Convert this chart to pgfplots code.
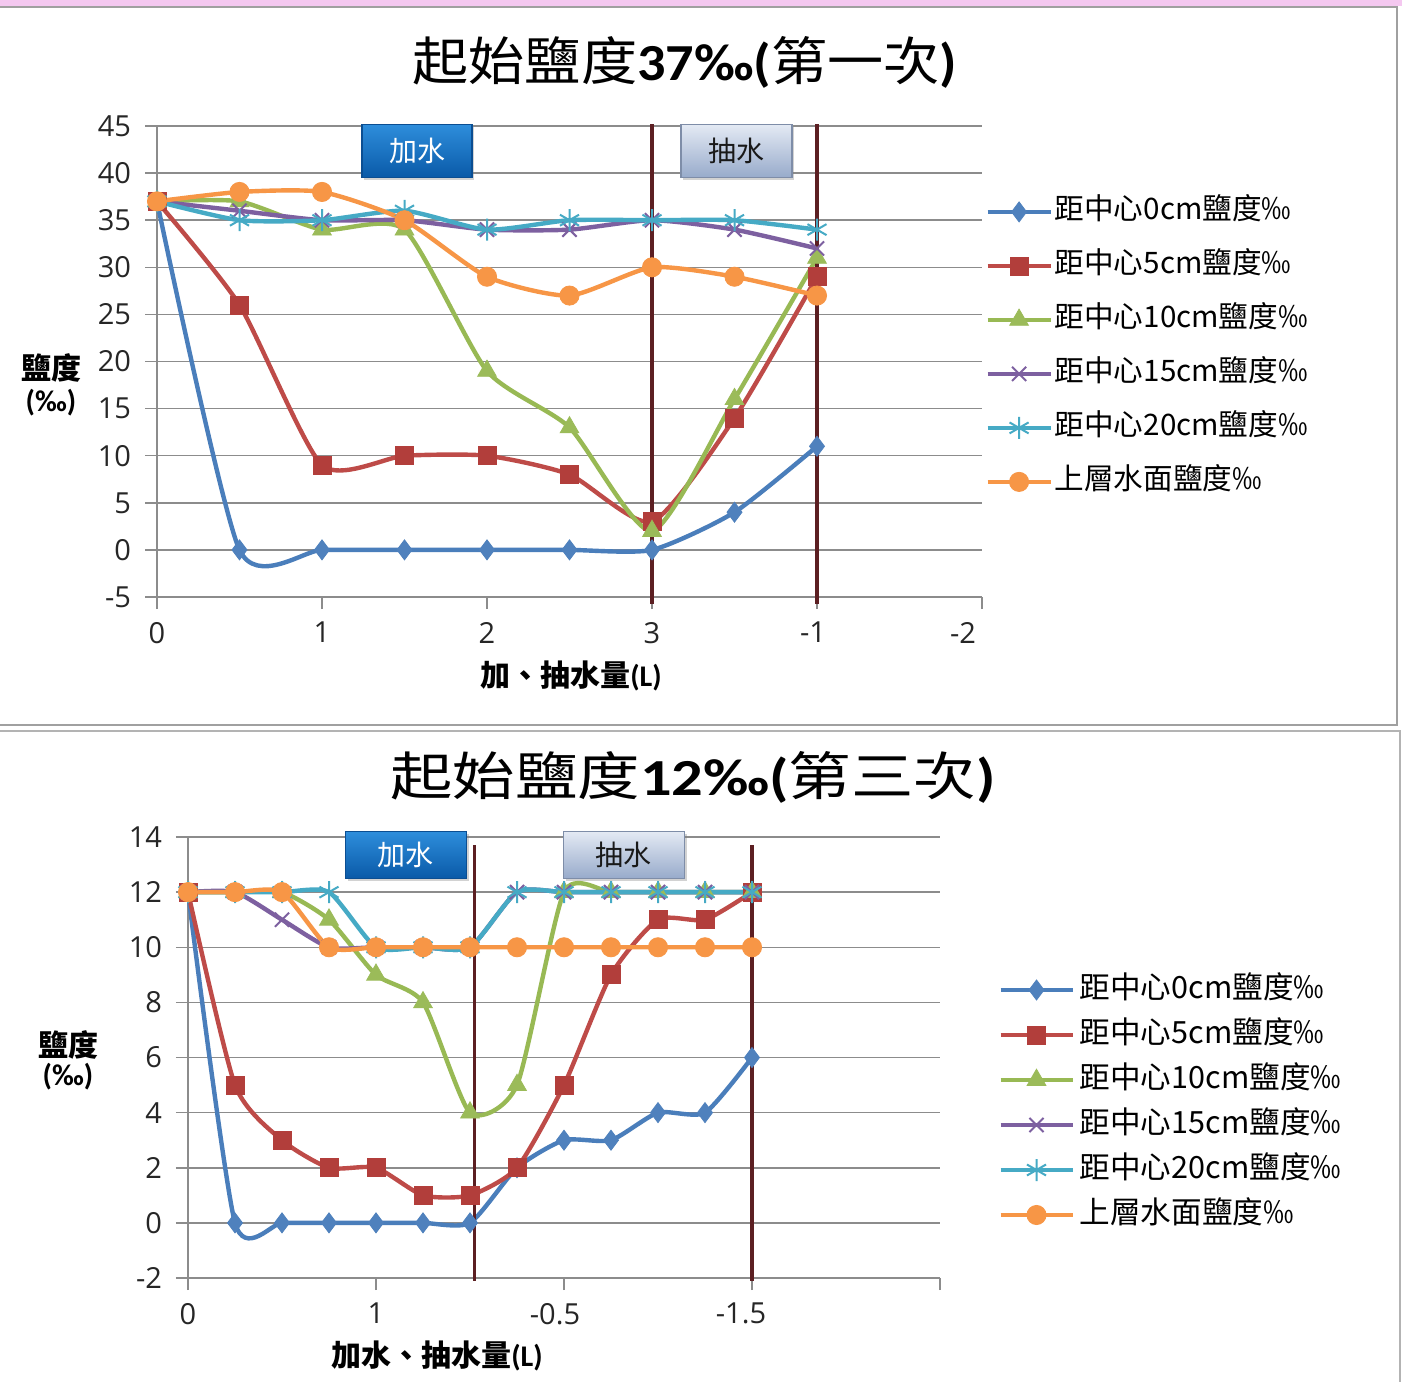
\documentclass[border=0pt]{standalone}
\usepackage{fontspec}
\usepackage{graphicx}
\usepackage{pgfplots}
\pgfplotsset{compat=1.18}
\usetikzlibrary{shadows}
\setmainfont{Carlito}
\newfontfamily\cjk{Noto Sans CJK TC}
\newfontfamily\tickfont{Open Sans}

\definecolor{s1}{HTML}{4A7EBB}
\definecolor{s1m}{HTML}{4F81BD}
\definecolor{s2}{HTML}{BE4B48}
\definecolor{s2m}{HTML}{B23E3B}
\definecolor{s3}{HTML}{98B954}
\definecolor{s3m}{HTML}{9BBB59}
\definecolor{s4}{HTML}{7D60A0}
\definecolor{s5}{HTML}{46AAC5}
\definecolor{s6}{HTML}{F79646}
\definecolor{gridc}{HTML}{8C8C8C}
\definecolor{vline}{HTML}{5C1F22}
\definecolor{panel}{HTML}{A0A0A0}
\definecolor{pinkband}{HTML}{F4C8F0}
\definecolor{addtop}{HTML}{2E8EDC}
\definecolor{addbot}{HTML}{0A5AA8}
\definecolor{addedge}{HTML}{0B4E92}
\definecolor{pumptop}{HTML}{E4EAF4}
\definecolor{pumpbot}{HTML}{98ABCB}
\definecolor{pumpedge}{HTML}{7E8DA8}

% shift a tick label sideways without changing its width
\newcommand{\tickleft}[2]{\kern-#1#2\kern#1}

% measurements, top panel: 0, 0.5, ..., 4 (positions 3 and 4 are drawn as 3 and -1)
\pgfplotstableread{
x   c0  c5  c10 c15 c20 top
0   37  37  37  37  37  37
0.5 0   26  37  36  35  38
1   0   9   34  35  35  38
1.5 0   10  34  35  36  35
2   0   10  19  34  34  29
2.5 0   8   13  34  35  27
3   0   3   2   35  35  30
3.5 4   14  16  34  35  29
4   11  29  31  32  34  27
}\runA

% measurements, bottom panel: steps of 0.25 L
\pgfplotstableread{
x   c0  c5  c10 c15 c20 top
0   12  12  12  12  12  12
1   0   5   12  12  12  12
2   0   3   12  11  12  12
3   0   2   11  10  12  10
4   0   2   9   10  10  10
5   0   1   8   10  10  10
6   0   1   4   10  10  10
7   2   2   5   12  12  10
8   3   5   12  12  12  10
9   3   9   12  12  12  10
10  4   11  12  12  12  10
11  4   11  12  12  12  10
12  6   12  12  12  12  10
}\runC

\pgfplotsset{
  salt/.style={
    scale only axis,
    axis x line=bottom, axis y line=left,
    axis line style={gridc, line width=0.75pt, -},
    ymajorgrids, grid style={gridc, line width=0.75pt},
    tick align=outside, major tick length=6pt,
    tick style={gridc, line width=0.75pt},
    tick label style={font=\tickfont\fontsize{14.5}{16}\selectfont, text=black!85},
    yticklabel style={xshift=-3.5pt},
    xticklabel style={yshift=-3pt},
    /pgf/number format/assume math mode=true,
    clip=false,
    legend cell align=left,
    every axis plot/.append style={line width=2.2pt, smooth, tension=0.38},
  },
  ser0/.style={s1, mark=diamond*, mark size=5pt, mark options={solid, line width=0.4pt, draw=s1m, fill=s1m}},
  ser5/.style={s2, mark=square*, mark size=4.5pt, mark options={solid, line width=0.4pt, draw=s2m, fill=s2m}},
  ser10/.style={s3, mark=triangle*, mark size=5.4pt, mark options={solid, line width=0.4pt, draw=s3m, fill=s3m}},
  ser15/.style={s4, mark=x, mark size=5pt, mark options={solid, line width=1pt, draw=s4}},
  ser20/.style={s5, mark=asterisk, mark size=5.5pt, mark options={solid, line width=1pt, draw=s5}},
  sertop/.style={s6, mark=*, mark size=4.8pt, mark options={solid, line width=0.4pt, draw=s6, fill=s6}},
}

\tikzset{
  addbox/.style={draw=addedge, line width=0.6pt, top color=addtop, bottom color=addbot,
    text=white, font=\cjk\fontsize{14}{16}\selectfont, inner sep=0pt,
    drop shadow={opacity=0.35, shadow xshift=1.2pt, shadow yshift=-1.5pt}},
  pumpbox/.style={draw=pumpedge, line width=0.6pt, top color=pumptop, bottom color=pumpbot,
    text=black!90, font=\cjk\fontsize{14}{16}\selectfont, inner sep=0pt,
    drop shadow={opacity=0.35, shadow xshift=1.2pt, shadow yshift=-1.5pt}},
}

\begin{document}
\begin{tikzpicture}
\useasboundingbox (0,0) rectangle (701pt,-690.5pt);
\fill[white] (0,0) rectangle (701pt,-690.5pt);
\fill[pinkband] (0,0) rectangle (701pt,-3.2pt);
\draw[panel, line width=1pt] (-2pt,-3.6pt) rectangle (698.4pt,-362.6pt);
\draw[panel!80, line width=1pt] (-2pt,-365.6pt) rectangle (700pt,-695pt);

% ---------- first run: 37 per mille ----------
\node[anchor=center] at (342.5pt,-31pt)
  {\scalebox{1.08}[1]{\fontsize{26}{30}\selectfont{\cjk 起始鹽度}{\bfseries 37‰(}{\cjk 第一次}{\bfseries )}}};

\begin{axis}[salt,
  at={(78.5pt,-298.5pt)}, anchor=south west,
  width=412.5pt, height=235.5pt,
  xmin=0, xmax=5, ymin=-5, ymax=45,
  xtick={0,1,2,3,4,5}, xticklabels={0,1,2,3,\tickleft{2pt}{-1},\tickleft{9.5pt}{-2}},
  ytick={-5,0,5,10,15,20,25,30,35,40,45},
  legend style={at={(1.0036,0.531)}, anchor=west, draw=none, fill=none,
    inner sep=0pt, row sep=13pt,
    font=\cjk\fontsize{14.8}{16}\selectfont,
    nodes={inner sep=0pt, text height=11pt, text depth=3pt},
    /tikz/every odd column/.append style={column sep=1pt}},
  legend image code/.code={\draw[mark repeat=2, mark phase=2] plot coordinates {(0pt,0pt) (15.75pt,0pt) (31.5pt,0pt)};},
]
\addplot[ser0] table[x=x, y=c0] {\runA};
\addplot[ser5] table[x=x, y=c5] {\runA};
\addplot[ser10] table[x=x, y=c10] {\runA};
\addplot[ser15] table[x=x, y=c15] {\runA};
\addplot[ser20] table[x=x, y=c20] {\runA};
\addplot[sertop] table[x=x, y=top] {\runA};
\legend{距中心0cm鹽度‰, 距中心5cm鹽度‰, 距中心10cm鹽度‰, 距中心15cm鹽度‰, 距中心20cm鹽度‰, 上層水面鹽度‰}
\draw[vline, line width=1.6pt] (axis cs:3,-5.7) -- (axis cs:3,45.2);
\draw[vline, line width=1.6pt] (axis cs:4,-5.7) -- (axis cs:4,45.2);
\end{axis}

\node[addbox, minimum width=55pt, minimum height=26.5pt] at (208.5pt,-75.3pt) {加水};
\node[pumpbox, minimum width=55.5pt, minimum height=26.5pt] at (368.2pt,-75.3pt) {抽水};

\node[font=\bfseries\fontsize{15}{17}\selectfont] at (25.5pt,-184pt) {\cjk\bfseries 鹽度};
\node[font=\bfseries\fontsize{15}{17}\selectfont] at (25.5pt,-201.5pt) {(‰)};
\node[font=\bfseries\fontsize{15}{17}\selectfont] at (285.5pt,-338pt) {{\cjk\bfseries 加、抽水量}(L)};

% ---------- third run: 12 per mille ----------
\node[anchor=center] at (346.5pt,-388.5pt)
  {\scalebox{1.2}[1]{\fontsize{26}{30}\selectfont{\cjk 起始鹽度}{\bfseries 12‰(}{\cjk 第三次}{\bfseries )}}};

\begin{axis}[salt,
  at={(94pt,-639pt)}, anchor=south west,
  width=376pt, height=220.5pt,
  xmin=0, xmax=16, ymin=-2, ymax=14,
  xtick={0,4,8,12,16}, xticklabels={0,1,\tickleft{4.5pt}{-0.5},\tickleft{5.5pt}{-1.5},{}},
  ytick={-2,0,2,4,6,8,10,12,14},
  legend style={at={(1.077,0.398)}, anchor=west, draw=none, fill=none,
    inner sep=0pt, row sep=8.5pt,
    font=\cjk\fontsize{15.3}{17}\selectfont,
    nodes={inner sep=0pt, text height=11pt, text depth=3pt},
    /tikz/every odd column/.append style={column sep=2.5pt}},
  legend image code/.code={\draw[mark repeat=2, mark phase=2] plot coordinates {(0pt,0pt) (18pt,0pt) (36pt,0pt)};},
]
\addplot[ser0] table[x=x, y=c0] {\runC};
\addplot[ser5] table[x=x, y=c5] {\runC};
\addplot[ser10] table[x=x, y=c10] {\runC};
\addplot[ser15] table[x=x, y=c15] {\runC};
\addplot[ser20] table[x=x, y=c20] {\runC};
\addplot[sertop] table[x=x, y=top] {\runC};
\legend{距中心0cm鹽度‰, 距中心5cm鹽度‰, 距中心10cm鹽度‰, 距中心15cm鹽度‰, 距中心20cm鹽度‰, 上層水面鹽度‰}
\draw[vline, line width=1.6pt] (axis cs:6.1,-2.1) -- (axis cs:6.1,13.7);
\draw[vline, line width=1.6pt] (axis cs:12,-2.1) -- (axis cs:12,13.7);
\end{axis}

\node[addbox, minimum width=60.5pt, minimum height=23.5pt] at (202.8pt,-427.3pt) {加水};
\node[pumpbox, minimum width=60.5pt, minimum height=23.5pt] at (311.8pt,-427.3pt) {抽水};

\node[font=\bfseries\fontsize{15}{17}\selectfont] at (34pt,-522.5pt) {\cjk\bfseries 鹽度};
\node[font=\bfseries\fontsize{15}{17}\selectfont] at (34pt,-538.5pt) {(‰)};
\node[font=\bfseries\fontsize{15}{17}\selectfont] at (218.5pt,-678pt) {{\cjk\bfseries 加水、抽水量}(L)};
\end{tikzpicture}
\end{document}
